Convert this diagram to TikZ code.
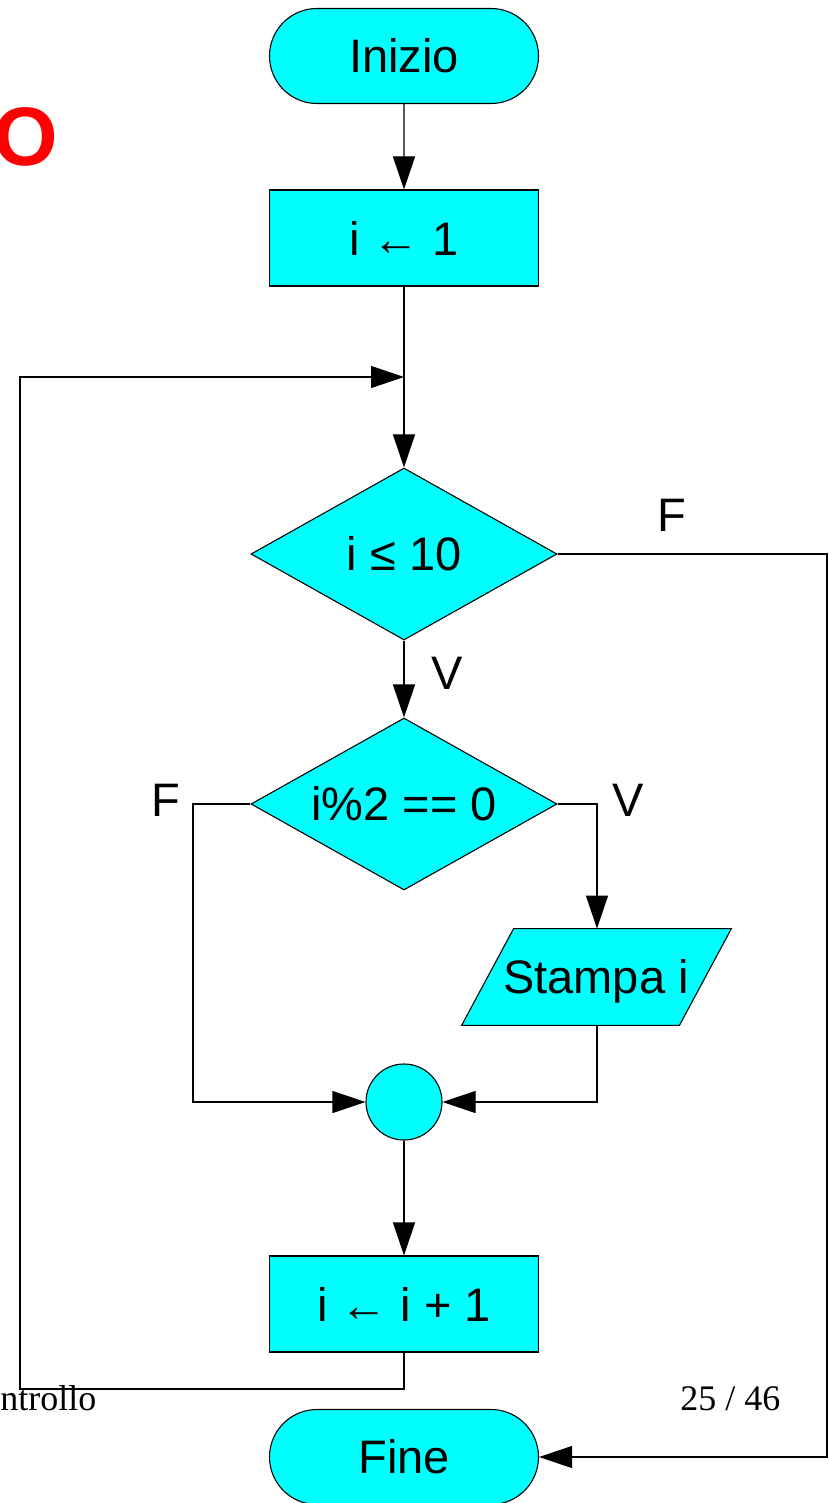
\documentclass[tikz,border=0pt]{standalone}
\usepackage{fontspec}
\setmainfont{Liberation Sans}
\newfontfamily\serifft{Liberation Serif}
\usetikzlibrary{shapes.geometric,shapes.misc,arrows.meta}
\definecolor{flowcyan}{HTML}{00FFFF}
\begin{document}
\begin{tikzpicture}[x=0.5pt,y=-0.5pt,
  every node/.style={inner sep=0pt, font=\fontsize{23.5pt}{26pt}\selectfont},
  base/.style={draw=black, fill=flowcyan, line width=0.55pt},
  term/.style={base, rounded rectangle, minimum width=134.5pt, minimum height=47.5pt},
  proc/.style={base, rectangle, minimum width=134.5pt, minimum height=48pt},
  decis/.style={base, diamond, shape aspect=1.78, minimum width=153pt, minimum height=86pt},
  junct/.style={base, circle, minimum size=38pt},
  conn/.style={line width=0.55pt},
  arr/.style={conn, -{Triangle[length=16.5pt,width=11pt]}},
  lbl/.style={font=\fontsize{23.5pt}{26pt}\selectfont},
  foot/.style={font=\serifft\fontsize{18pt}{20pt}\selectfont}
]
\useasboundingbox (0,0) rectangle (829,1503);
% title remnant
\node[anchor=base east, text=red, font=\bfseries\fontsize{41.5pt}{44pt}\selectfont] (title) at (58.5,166) {O};
% nodes
\node[term] (inizio) at (404,56) {Inizio};
\node[proc] (init) at (404,238) {i ← 1};
\node[decis] (d1) at (404,554) {\makebox[0pt]{i ≤ 10}};
\node[decis] (d2) at (404,804) {\makebox[0pt]{i\%2 == 0}};
\node[minimum width=108.5pt, minimum height=48pt] (stampa) at (596,977) {};
\fill[flowcyan] ([xshift=13.25pt]stampa.north west) -- ([xshift=13.25pt]stampa.north east)
  -- ([xshift=-12.75pt]stampa.south east) -- ([xshift=-12.75pt]stampa.south west) -- cycle;
\draw[conn] ([xshift=13.25pt]stampa.north west) -- ([xshift=13.25pt]stampa.north east)
  -- ([xshift=-12.75pt]stampa.south east) -- ([xshift=-12.75pt]stampa.south west) -- cycle;
\node[anchor=base] (stampatxt) at (596,993) {Stampa i};
\node[junct] (circ) at (404,1102) {};
\node[proc] (incr) at (404,1304) {i ← i + 1};
\node[term] (fine) at (404,1457) {Fine};
% footer
\node[foot, anchor=base west] (foottxt) at (0,1410) {ntrollo};
\node[foot, anchor=base west] (pagenum) at (680,1410) {25 / 46};
% labels
\node[lbl] (lf1) at (672,515) {F};
\node[lbl] (lv1) at (447,673) {V};
\node[lbl] (lf2) at (166,800) {F};
\node[lbl] (lv2) at (628,800) {V};
% coordinates
\coordinate (merge) at (404,377);
\coordinate (loopL) at (20,1389);
\coordinate (fR) at (827,554);
\coordinate (d2L) at (193,804);
\coordinate (d2R) at (597,804);
% connectors
\draw[arr] (inizio) -- (init);
\draw[arr] (init) -- (d1);
\draw[arr] (incr.south) |- (loopL) |- (merge);
\draw[arr] (d1.east) -- (fR) |- (fine.east);
\draw[arr] (d1.south) -- (d2.north);
\draw[arr] (d2.west) -- (d2L) |- (circ.west);
\draw[arr] (d2.east) -- (d2R) -- (stampa.north -| d2R);
\draw[arr] (stampa.south -| d2R) |- (circ.east);
\draw[arr] (circ.south) -- (incr.north);
\end{tikzpicture}
\end{document}
